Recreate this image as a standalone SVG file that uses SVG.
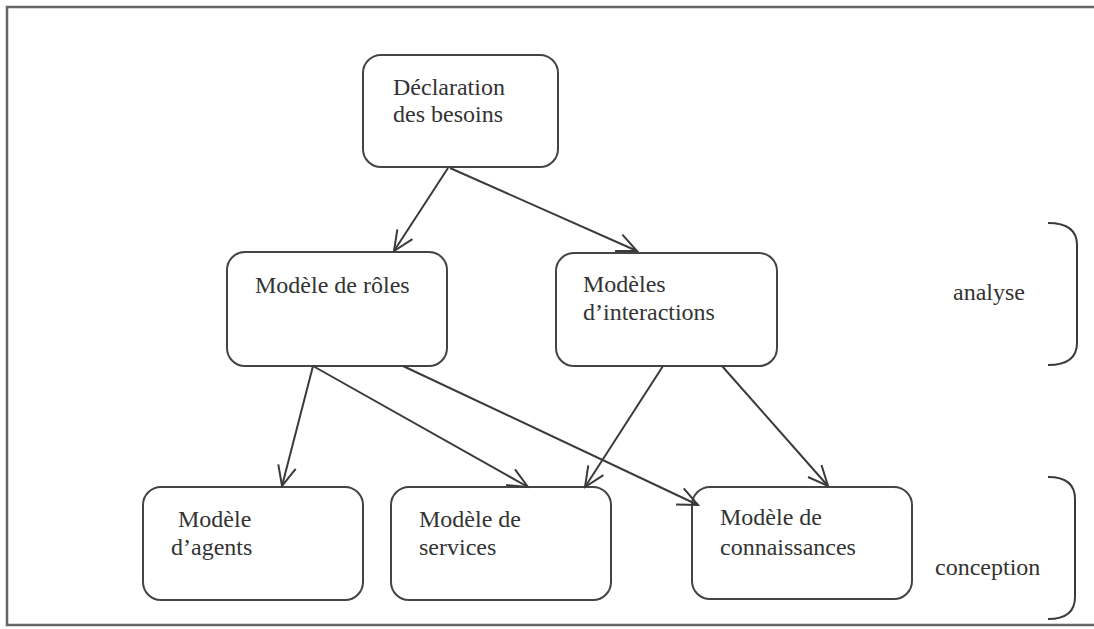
<svg xmlns="http://www.w3.org/2000/svg" width="1094" height="629" viewBox="0 0 1094 629">
<style>
.box{fill:#fff;stroke:#444;stroke-width:2}
.t{font-family:"Liberation Serif","Times New Roman",serif;font-size:24px;fill:#333}
.c{fill:none;stroke:#3a3a3a;stroke-width:2}
.frame{fill:none;stroke:#666;stroke-width:2.5}
</style>
<defs>
<marker id="arr" viewBox="0 0 24 24" refX="22" refY="12" markerWidth="24" markerHeight="24" markerUnits="userSpaceOnUse" orient="auto">
<path d="M2,3 L22,12 L2,21" fill="none" stroke="#3a3a3a" stroke-width="2"/>
</marker>
</defs>
<rect width="1094" height="629" fill="#fff"/>
<path class="frame" d="M1100,7 L7,7 L7,625 L1100,625"/>
<g id="declaration">
<rect class="box" x="363" y="55" width="195" height="112" rx="18"/>
<text class="t" x="393" y="95">Déclaration</text>
<text class="t" x="393" y="122">des besoins</text>
</g>
<g id="roles">
<rect class="box" x="227" y="252" width="220" height="114" rx="18"/>
<text class="t" x="255" y="293">Modèle de rôles</text>
</g>
<g id="interactions">
<rect class="box" x="556" y="253" width="221" height="113" rx="18"/>
<text class="t" x="583" y="292">Modèles</text>
<text class="t" x="583" y="320">d’interactions</text>
</g>
<g id="agents">
<rect class="box" x="143" y="487" width="220" height="113" rx="18"/>
<text class="t" x="178" y="527">Modèle</text>
<text class="t" x="171" y="555">d’agents</text>
</g>
<g id="services">
<rect class="box" x="391" y="487" width="220" height="113" rx="18"/>
<text class="t" x="419" y="527">Modèle de</text>
<text class="t" x="419" y="555">services</text>
</g>
<g id="connaissances">
<rect class="box" x="692" y="487" width="220" height="112" rx="18"/>
<text class="t" x="720" y="525">Modèle de</text>
<text class="t" x="720" y="555">connaissances</text>
</g>
<g id="phases">
<text class="t" x="953" y="300">analyse</text>
<path class="c" d="M1048,223 Q1077,223 1077,245 L1077,343 Q1077,365 1048,365"/>
<text class="t" x="935" y="575">conception</text>
<path class="c" d="M1048,477 Q1075,477 1075,499 L1075,597 Q1075,619 1048,619"/>
</g>
<g id="connectors">
<line class="c" x1="448" y1="168" x2="394" y2="251" marker-end="url(#arr)"/>
<line class="c" x1="450" y1="168" x2="637" y2="251" marker-end="url(#arr)"/>
<line class="c" x1="313" y1="366" x2="282" y2="486" marker-end="url(#arr)"/>
<line class="c" x1="313" y1="366" x2="528" y2="487" marker-end="url(#arr)"/>
<line class="c" x1="403" y1="366" x2="698" y2="505" marker-end="url(#arr)"/>
<line class="c" x1="663" y1="366" x2="585" y2="487" marker-end="url(#arr)"/>
<line class="c" x1="722" y1="366" x2="828" y2="486" marker-end="url(#arr)"/>
</g>
</svg>
